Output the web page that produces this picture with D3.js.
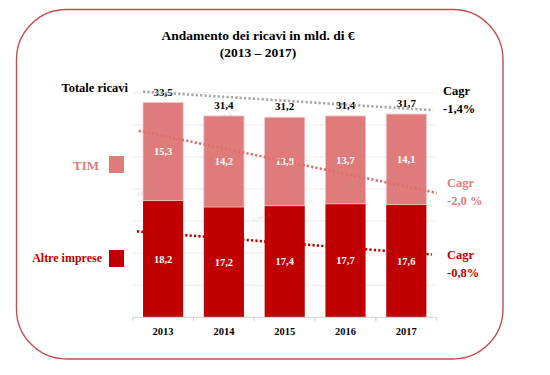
<!DOCTYPE html>
<html>
<head>
<meta charset="utf-8">
<script src="https://cdn.jsdelivr.net/npm/d3@7"></script>
</head>
<body style="margin:0; background:#fff">
<div id="chart"></div>
<script>
// dati (mld. di €)
const years = ["2013", "2014", "2015", "2016", "2017"];
const altre = [18.2, 17.2, 17.4, 17.7, 17.6];
const tim = [15.3, 14.2, 13.8, 13.7, 14.1];
const totals = [33.5, 31.4, 31.2, 31.4, 31.7];
// linee di tendenza: [indice anno, valore] inizio / fine
const trendTotal = [[-0.33, 35.2], [4.44, 32.3]];
const trendTim = [[-0.40, 29.1], [4.50, 19.4]];
const trendAltre = [[-0.43, 13.4], [4.42, 9.8]];
const cagrTotal = ["Cagr", "-1,4%"];
const cagrTim = ["Cagr", "-2,0 %"];
const cagrAltre = ["Cagr", "-0,8%"];
// filigrane del sito
const watermarks = [[118, 88], [223, 119], [147, 193], [262, 219], [355, 186]];

const W = 550, H = 375;
const cRed = "#c00000", cTim = "#e07b7b", cGray = "#a6a6a6";

const svg = d3.select("#chart").append("svg")
  .attr("width", W).attr("height", H)
  .style("display", "block");

// helper testo
function txt(sel, size, bold) {
  return sel.attr("font-family", "Liberation Serif")
    .attr("font-size", size)
    .attr("font-weight", bold ? "bold" : "normal");
}

// cornice arrotondata
svg.append("rect")
  .attr("x", 16.5).attr("y", 9.5)
  .attr("width", 486.5).attr("height", 349.5)
  .attr("rx", 50).attr("ry", 50)
  .attr("fill", "none")
  .attr("stroke", "#c0504d")
  .attr("stroke-width", 1.4);

// titolo
txt(svg.append("text")
  .attr("x", 258).attr("y", 40)
  .attr("text-anchor", "middle"), 13.5, true)
  .text("Andamento dei ricavi in mld. di €");
txt(svg.append("text")
  .attr("x", 258).attr("y", 57)
  .attr("text-anchor", "middle"), 13.5, true)
  .text("(2013 – 2017)");

const x = d3.scaleBand()
  .domain(years)
  .range([132.7, 436.7])
  .paddingInner(0.34)
  .paddingOuter(0.17);

const y = d3.scaleLinear()
  .domain([0, 35])
  .range([317.3, 92.9]);

const xi = d3.scaleLinear()
  .domain([0, 4])
  .range([x(years[0]) + x.bandwidth() / 2, x(years[4]) + x.bandwidth() / 2]);

// griglia
svg.append("g")
  .selectAll("line")
  .data(y.ticks(7).filter(d => d > 0))
  .join("line")
  .attr("x1", 132.7).attr("x2", 436.7)
  .attr("y1", d => y(d)).attr("y2", d => y(d))
  .attr("stroke", "#ececec")
  .attr("stroke-width", 1);

// barre
const stacked = years.map((yr, i) => ({ yr, altre: altre[i], tim: tim[i], tot: totals[i] }));

svg.append("g")
  .selectAll("rect")
  .data(stacked)
  .join("rect")
  .attr("x", d => x(d.yr))
  .attr("width", x.bandwidth())
  .attr("y", d => y(d.altre))
  .attr("height", d => y(0) - y(d.altre))
  .attr("fill", cRed);

svg.append("g")
  .selectAll("rect")
  .data(stacked)
  .join("rect")
  .attr("x", d => x(d.yr))
  .attr("width", x.bandwidth())
  .attr("y", d => y(d.altre + d.tim))
  .attr("height", d => y(d.altre) - y(d.altre + d.tim))
  .attr("fill", cTim)
  .attr("stroke", "#f2c4c4")
  .attr("stroke-width", 0.8);

// filigrane
txt(svg.append("g")
  .selectAll("text")
  .data(watermarks)
  .join("text")
  .attr("transform", d => `translate(${d[0]},${d[1]}) rotate(-20)`)
  .attr("text-anchor", "middle")
  .attr("fill", "#9a9a9a")
  .attr("opacity", 0.35), 6.5, false)
  .text("ziotel.it");

// asse x
const ax = svg.append("g");
ax.append("line")
  .attr("x1", 132.7).attr("x2", 436.7)
  .attr("y1", y(0)).attr("y2", y(0))
  .attr("stroke", "#d0d0d0");
ax.selectAll("line.tk")
  .data(d3.range(6))
  .join("line")
  .attr("class", "tk")
  .attr("x1", i => 132.7 + i * x.step()).attr("x2", i => 132.7 + i * x.step())
  .attr("y1", y(0)).attr("y2", y(0) + 4)
  .attr("stroke", "#d0d0d0");
txt(ax.selectAll("text")
  .data(years)
  .join("text")
  .attr("x", d => x(d) + x.bandwidth() / 2)
  .attr("y", 334.5)
  .attr("text-anchor", "middle"), 10.5, true)
  .text(d => d);

// etichette valori
const fmt = v => v.toFixed(1).replace(".", ",");
txt(svg.append("g")
  .selectAll("text")
  .data(stacked)
  .join("text")
  .attr("x", d => x(d.yr) + x.bandwidth() / 2)
  .attr("y", d => (y(0) + y(d.altre)) / 2 + 3.7)
  .attr("text-anchor", "middle")
  .attr("fill", "#fff"), 10.5, true)
  .text(d => fmt(d.altre));
txt(svg.append("g")
  .selectAll("text")
  .data(stacked)
  .join("text")
  .attr("x", d => x(d.yr) + x.bandwidth() / 2)
  .attr("y", d => (y(d.altre) + y(d.altre + d.tim)) / 2 + 3.7)
  .attr("text-anchor", "middle")
  .attr("fill", "#fff"), 10.5, true)
  .text(d => fmt(d.tim));
txt(svg.append("g")
  .selectAll("text")
  .data(stacked)
  .join("text")
  .attr("x", d => x(d.yr) + x.bandwidth() / 2)
  .attr("y", d => y(d.tot) - 7)
  .attr("text-anchor", "middle"), 11, true)
  .text(d => fmt(d.tot));

// linee di tendenza tratteggiate
const line = d3.line().x(d => xi(d[0])).y(d => y(d[1]));
[[trendTotal, cGray], [trendTim, "#dc6e6e"], [trendAltre, cRed]].forEach(([pts, col]) => {
  svg.append("path")
    .attr("d", line(pts))
    .attr("fill", "none")
    .attr("stroke", col)
    .attr("stroke-width", 2.6)
    .attr("stroke-dasharray", "2.2,2.2");
});

// legenda a sinistra
txt(svg.append("text")
  .attr("x", 128).attr("y", 92)
  .attr("text-anchor", "end"), 12.5, true)
  .text("Totale ricavi");
txt(svg.append("text")
  .attr("x", 99).attr("y", 170)
  .attr("text-anchor", "end")
  .attr("fill", cTim), 13, true)
  .text("TIM");
svg.append("rect")
  .attr("x", 109).attr("y", 156).attr("width", 15).attr("height", 17)
  .attr("fill", cTim);
txt(svg.append("text")
  .attr("x", 102).attr("y", 262)
  .attr("text-anchor", "end")
  .attr("fill", cRed), 12, true)
  .text("Altre imprese");
svg.append("rect")
  .attr("x", 109).attr("y", 250).attr("width", 15).attr("height", 17)
  .attr("fill", cRed);

// Cagr a destra
function cagr(lbl, x0, y0, col) {
  const t = txt(svg.append("text")
    .attr("x", x0).attr("y", y0)
    .attr("fill", col), 12.5, true);
  t.append("tspan").attr("x", x0).text(lbl[0]);
  t.append("tspan").attr("x", x0).attr("dy", 18).text(lbl[1]);
}
cagr(cagrTotal, 443, 95, "#000");
cagr(cagrTim, 447, 187, cTim);
cagr(cagrAltre, 447, 259, cRed);
</script>
</body>
</html>
